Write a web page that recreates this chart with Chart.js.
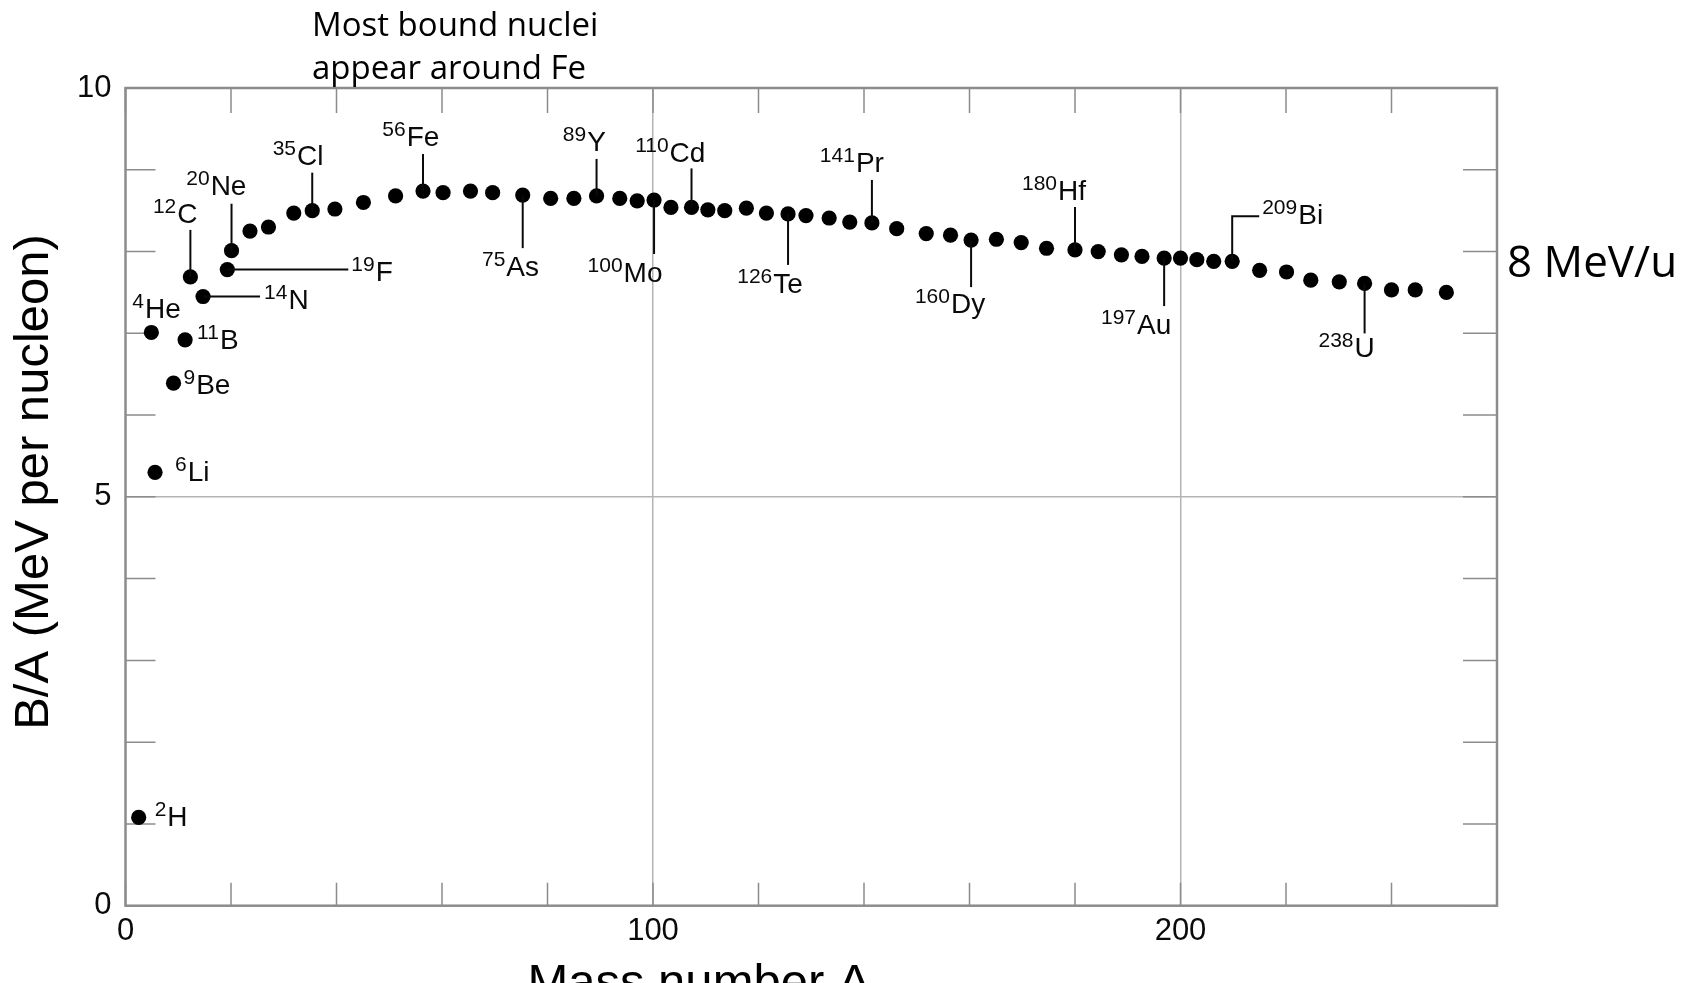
<!DOCTYPE html>
<html>
<head>
<meta charset="utf-8">
<title>Binding energy per nucleon</title>
<script src="https://cdn.jsdelivr.net/npm/chart.js@4.4.1/dist/chart.umd.min.js"></script>
<style>
  html, body { margin: 0; padding: 0; background: #fff; overflow: hidden; }
  canvas { display: block; }
</style>
</head>
<body>
<canvas id="chart" width="1688" height="983"></canvas>
<script>
// mass number A and B/A (MeV per nucleon)
const massNumber = [
  2.5, 4.9, 5.6, 9.1, 11.3, 12.3, 14.7, 19.3, 20.1, 23.6,
  27.1, 31.9, 35.4, 39.7, 45.1, 51.2, 56.4, 60.2, 65.4, 69.6,
  75.3, 80.6, 85.0, 89.3, 93.7, 97.0, 100.2, 103.4, 107.3, 110.4,
  113.6, 117.7, 121.5, 125.6, 129.0, 133.4, 137.3, 141.5, 146.2, 151.8,
  156.4, 160.3, 165.1, 169.8, 174.6, 180.0, 184.4, 188.8, 192.7, 196.9,
  200.0, 203.1, 206.3, 209.8, 215.0, 220.1, 224.7, 230.1, 234.9, 240.0,
  244.5, 250.4
];
const bindingPerNucleon = [
  1.08, 7.01, 5.30, 6.39, 6.92, 7.69, 7.45, 7.78, 8.01, 8.25,
  8.30, 8.47, 8.50, 8.52, 8.60, 8.68, 8.74, 8.72, 8.74, 8.72,
  8.69, 8.65, 8.65, 8.68, 8.65, 8.62, 8.63, 8.54, 8.54, 8.51,
  8.50, 8.53, 8.47, 8.46, 8.44, 8.41, 8.36, 8.35, 8.28, 8.22,
  8.20, 8.14, 8.15, 8.11, 8.04, 8.02, 8.00, 7.96, 7.94, 7.92,
  7.92, 7.90, 7.88, 7.88, 7.77, 7.75, 7.65, 7.63, 7.61, 7.53,
  7.53, 7.50
];

// labelled nuclides (index into the arrays above)
const labelIndex  = [0, 1, 2, 3, 4, 5, 6, 7, 8, 12, 16, 20, 23, 26, 28, 33, 37, 41, 45, 49, 53, 58];
const labelMass   = ['2', '4', '6', '9', '11', '12', '14', '19', '20', '35', '56', '75', '89', '100', '110', '126', '141', '160', '180', '197', '209', '238'];
const labelSymbol = ['H', 'He', 'Li', 'Be', 'B', 'C', 'N', 'F', 'Ne', 'Cl', 'Fe', 'As', 'Y', 'Mo', 'Cd', 'Te', 'Pr', 'Dy', 'Hf', 'Au', 'Bi', 'U'];

const xLabelled = [0, 100, 200];
const yLabelled = [0, 5, 10];
const xGridAt = [100, 200];
const yGridAt = [5];

const noteTop = ['Most bound nuclei', 'appear around Fe'];
const noteRight = '8 MeV/u';
const xTitle = 'Mass number A';
const yTitle = 'B/A (MeV per nucleon)';

// how each label sits next to its dot (pixels)
const labelPlace = [
  {type: 'right', dx: 16, dy: 9},
  {type: 'right', dx: -19, dy: -14},
  {type: 'right', dx: 20, dy: 9},
  {type: 'right', dx: 10, dy: 11},
  {type: 'right', dx: 12, dy: 9},
  {type: 'up', stem: 47, gap: 7, dx: -3},
  {type: 'right', line: 57, dx: 61, dy: 12},
  {type: 'right', line: 121, dx: 124, dy: 11},
  {type: 'up', stem: 47, gap: 9, dx: -3},
  {type: 'up', stem: 38, gap: 8, dx: -2},
  {type: 'up', stem: 37, gap: 8, dx: 0},
  {type: 'down', stem: 53, gap: 28, dx: 0},
  {type: 'up', stem: 37, gap: 8, dx: 0},
  {type: 'down', stem: 54, gap: 28, dx: -11},
  {type: 'up', stem: 39, gap: 6, dx: -4},
  {type: 'down', stem: 51, gap: 28, dx: 0},
  {type: 'up', stem: 43, gap: 8, dx: -2},
  {type: 'down', stem: 47, gap: 26, dx: -3},
  {type: 'up', stem: 43, gap: 7, dx: -3},
  {type: 'down', stem: 48, gap: 28, dx: -10},
  {type: 'elbow', stem: 45, line: 27, dx: 30, dy: 8},
  {type: 'down', stem: 50, gap: 24, dx: 0}
];

const ink = '#0a0a0a';
const frameGrey = '#8c8c8c';
const gridGrey = '#b4b4b4';
const symFont = '28px "Liberation Sans", Arial, sans-serif';
const supFont = '21px "Liberation Sans", Arial, sans-serif';

function drawNuclide(ctx, x, y, mass, sym, p) {
  ctx.font = symFont;
  const sw = ctx.measureText(sym).width;
  ctx.font = supFont;
  const mw = ctx.measureText(mass).width;

  ctx.strokeStyle = ink;
  ctx.lineWidth = 2;
  let left, base;

  if (p.type === 'right') {
    if (p.line) {
      ctx.beginPath();
      ctx.moveTo(x, y);
      ctx.lineTo(x + p.line, y);
      ctx.stroke();
    }
    left = x + p.dx;
    base = y + p.dy;
  } else if (p.type === 'up' || p.type === 'down') {
    const dir = p.type === 'up' ? -1 : 1;
    ctx.beginPath();
    ctx.moveTo(x, y);
    ctx.lineTo(x, y + dir * p.stem);
    ctx.stroke();
    base = p.type === 'up' ? y - p.stem - p.gap : y + p.stem + p.gap;
    left = x + p.dx - sw / 2 - mw - 1;
  } else if (p.type === 'elbow') {
    ctx.beginPath();
    ctx.moveTo(x, y);
    ctx.lineTo(x, y - p.stem);
    ctx.lineTo(x + p.line, y - p.stem);
    ctx.stroke();
    left = x + p.dx;
    base = y - p.stem + p.dy;
  }

  ctx.fillStyle = ink;
  ctx.textAlign = 'left';
  ctx.textBaseline = 'alphabetic';
  ctx.font = supFont;
  ctx.fillText(mass, left, base - 10);
  ctx.font = symFont;
  ctx.fillText(sym, left + mw + 1, base);
}

const framePlugin = {
  id: 'frame',
  beforeDatasetsDraw(chart) {
    const {ctx, chartArea: a, scales} = chart;
    ctx.save();
    ctx.strokeStyle = frameGrey;
    ctx.lineWidth = 1.5;
    ctx.beginPath();
    scales.x.ticks.forEach(t => {
      const px = scales.x.getPixelForValue(t.value);
      ctx.moveTo(px, a.top);
      ctx.lineTo(px, a.top + 25);
      ctx.moveTo(px, a.bottom);
      ctx.lineTo(px, a.bottom - 23);
    });
    scales.y.ticks.forEach(t => {
      const py = scales.y.getPixelForValue(t.value);
      ctx.moveTo(a.left, py);
      ctx.lineTo(a.left + 30, py);
      ctx.moveTo(a.right, py);
      ctx.lineTo(a.right - 34, py);
    });
    ctx.stroke();
    ctx.lineWidth = 2.5;
    ctx.strokeRect(a.left, a.top, a.right - a.left, a.bottom - a.top);
    ctx.restore();
  },
  afterDatasetsDraw(chart) {
    const {ctx, scales} = chart;
    ctx.save();
    labelIndex.forEach((idx, i) => {
      const x = scales.x.getPixelForValue(massNumber[idx]);
      const y = scales.y.getPixelForValue(bindingPerNucleon[idx]);
      drawNuclide(ctx, x, y, labelMass[i], labelSymbol[i], labelPlace[i]);
    });

    ctx.fillStyle = '#000';
    ctx.textBaseline = 'alphabetic';
    ctx.textAlign = 'left';
    ctx.font = '33px "Open Sans", sans-serif';
    ctx.fillText(noteTop[0], 312, 36);
    ctx.fillText(noteTop[1], 312, 79);
    ctx.font = '44px "Open Sans", sans-serif';
    ctx.fillText(noteRight, 1507, 277);

    ctx.font = '49px "Liberation Sans", Arial, sans-serif';
    ctx.textAlign = 'center';
    ctx.fillText(xTitle, 699, 998);
    ctx.translate(34, 482);
    ctx.rotate(-Math.PI / 2);
    ctx.textBaseline = 'middle';
    ctx.fillText(yTitle, 0, 0);
    ctx.restore();
  }
};

const points = massNumber.map((a, i) => ({x: a, y: bindingPerNucleon[i]}));

new Chart(document.getElementById('chart'), {
  type: 'scatter',
  data: {
    datasets: [{
      data: points,
      pointRadius: 7.6,
      pointBackgroundColor: '#000',
      pointBorderWidth: 0
    }]
  },
  options: {
    responsive: false,
    animation: false,
    devicePixelRatio: 1,
    events: [],
    layout: {padding: {left: 0, top: 88, right: 191, bottom: 0}},
    plugins: {legend: {display: false}, tooltip: {enabled: false}},
    scales: {
      x: {
        type: 'linear',
        min: 0,
        max: 260,
        afterFit: s => { s.height = 77.3; },
        border: {display: false},
        grid: {
          drawTicks: false,
          lineWidth: 1.5,
          color: c => xGridAt.includes(c.tick.value) ? gridGrey : 'transparent'
        },
        ticks: {
          stepSize: 20,
          autoSkip: false,
          maxRotation: 0,
          padding: 7,
          color: ink,
          font: {family: '"Liberation Sans", Arial, sans-serif', size: 31},
          callback: v => xLabelled.includes(v) ? String(v) : ''
        }
      },
      y: {
        min: 0,
        max: 10,
        afterFit: s => { s.width = 125.5; },
        border: {display: false},
        grid: {
          drawTicks: false,
          lineWidth: 1.5,
          color: c => yGridAt.includes(c.tick.value) ? gridGrey : 'transparent'
        },
        ticks: {
          stepSize: 1,
          autoSkip: false,
          padding: 14,
          color: ink,
          font: {family: '"Liberation Sans", Arial, sans-serif', size: 31},
          callback: v => yLabelled.includes(v) ? String(v) : ''
        }
      }
    }
  },
  plugins: [framePlugin]
});
</script>
</body>
</html>
